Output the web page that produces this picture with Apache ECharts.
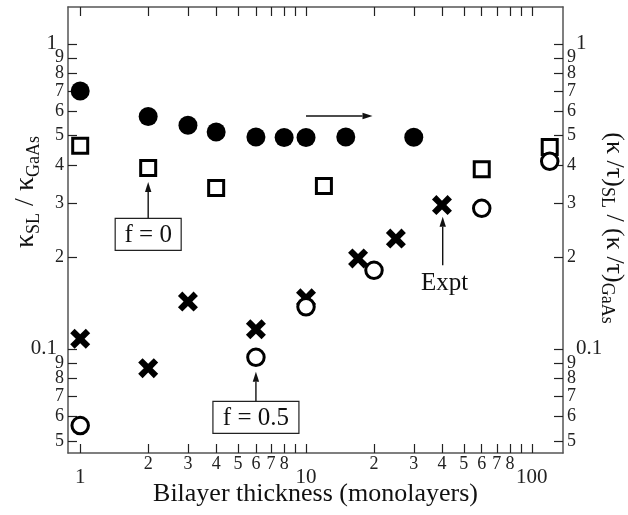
<!DOCTYPE html>
<html>
<head>
<meta charset="utf-8">
<script src="https://cdn.jsdelivr.net/npm/echarts@6/dist/echarts.min.js"></script>
<style>html,body{margin:0;padding:0;background:#fff}#c{width:628px;height:515px}</style>
</head>
<body>
<div id="c"></div>
<script>
// ---- data ----
const filledX = [1, 2, 3, 4, 6, 8, 10, 15, 30];
const filledY = [0.70, 0.578, 0.541, 0.514, 0.495, 0.493, 0.493, 0.495, 0.494];
const squareX = [1, 2, 4, 12, 60, 120];
const squareY = [0.463, 0.392, 0.337, 0.342, 0.388, 0.459];
const openX = [1, 6, 10, 20, 60, 120];
const openY = [0.0561, 0.0939, 0.1375, 0.181, 0.289, 0.412];
const exptX = [1, 2, 3, 6, 10, 17, 25, 40];
const exptY = [0.108, 0.0865, 0.143, 0.116, 0.1465, 0.198, 0.230, 0.296];

const xTickVals = [1,2,3,4,5,6,7,8,9,10,20,30,40,50,60,70,80,90,100];
const xLabelVals = [1,2,3,4,5,6,7,8,10,20,30,40,50,60,70,80,100];
const yTickVals = [0.05,0.06,0.07,0.08,0.09,0.1,0.2,0.3,0.4,0.5,0.6,0.7,0.8,0.9,1];
// trailing blank label slot keeps "1" from being treated as the edge label
const yLabelVals = yTickVals.concat([1.3]);

const xTitle = 'Bilayer thickness (monolayers)';
const leftTitle = 'κ{s|SL} / κ{s|GaAs}';
const rightTitle = '(κ /τ){s|SL} / (κ /τ){s|GaAs}';

// annotation anchors (data space)
const arrowRight = [[10, 0.58], [19.7, 0.58]];
const arrowF0 = [[2, 0.268], [2, 0.3527]];
const arrowF05 = [[6, 0.0673], [6, 0.0842]];
const arrowExpt = [[40.3, 0.188], [40.3, 0.271]];

const FONT = 'Liberation Serif';
const INK = '#000';
const AXC = '#555';

function zip(a, b) { return a.map((v, i) => [v, b[i]]); }
function fmt(v) {
  if (v > 1.05 && v < 2) return '';
  const e = Math.floor(Math.log10(v) + 1e-9);
  const m = Math.round(v / Math.pow(10, e));
  if (m === 1) return '{b|' + (+v.toPrecision(3)) + '}';
  return '{s|' + m + '}';
}
const xMarkPath = 'path://M0,22 L22,0 L50,28 L78,0 L100,22 L72,50 L100,78 L78,100 L50,72 L22,100 L0,78 L28,50 Z';

const chart = echarts.init(document.getElementById('c'), null, {renderer: 'canvas'});

const xMin = 0.883, xMax = 137.4, yMin = 0.0456, yMax = 1.32;

function xAxisDef(pos, labels) {
  return {
    type: 'log', logBase: 10, min: xMin, max: xMax, position: pos,
    axisLine: {show: true, onZero: false, lineStyle: {color: AXC, width: 1.5}},
    axisTick: {show: true, inside: true, length: 9, customValues: xTickVals, lineStyle: {color: '#222', width: 1.2}},
    minorTick: {show: false}, splitLine: {show: false},
    axisLabel: labels ? {
      show: true, customValues: xLabelVals, formatter: fmt, margin: 2, color: '#222',
      fontFamily: FONT, hideOverlap: false, showMinLabel: true, showMaxLabel: true,
      rich: {s: {fontSize: 18, fontFamily: FONT, color: '#222'},
             b: {fontSize: 21, fontFamily: FONT, color: '#222', padding: [12, 0, 0, 0]}}
    } : {show: false},
    name: labels ? xTitle : '', nameLocation: 'middle', nameGap: 28, nameMoveOverlap: false,
    nameTextStyle: {fontFamily: FONT, fontSize: 26, color: '#111'}
  };
}
function yAxisDef(pos) {
  const left = pos === 'left';
  return {
    type: 'log', logBase: 10, min: yMin, max: yMax, position: pos,
    axisLine: {show: true, onZero: false, lineStyle: {color: AXC, width: 1.5}},
    axisTick: {show: true, inside: true, length: 9, customValues: yTickVals, lineStyle: {color: '#222', width: 1.2}},
    minorTick: {show: false}, splitLine: {show: false},
    axisLabel: {
      show: true, customValues: yLabelVals, formatter: fmt, margin: 4, color: '#222',
      fontFamily: FONT, hideOverlap: false,
      rich: {s: {fontSize: 18, lineHeight: 11, fontFamily: FONT, color: '#222'},
             b: {fontSize: 21, lineHeight: 11, fontFamily: FONT, color: '#222', padding: left ? [0, 7, 0, 0] : [0, 0, 0, 9]}}
    }
  };
}

chart.setOption({
  animation: false,
  backgroundColor: '#fff',
  grid: {left: 68, right: 65, top: 7, bottom: 62, containLabel: false, outerBoundsMode: 'none'},
  xAxis: [xAxisDef('bottom', true), xAxisDef('top', false)],
  yAxis: [yAxisDef('left'), yAxisDef('right')],
  series: [
    {type: 'scatter', name: 'filled', xAxisIndex: 0, yAxisIndex: 1, data: zip(filledX, filledY),
     symbol: 'circle', symbolSize: 19, itemStyle: {color: INK, opacity: 1}, z: 2},
    {type: 'scatter', name: 'f=0', xAxisIndex: 0, yAxisIndex: 0, data: zip(squareX, squareY),
     symbol: 'rect', symbolSize: 15, itemStyle: {color: '#fff', borderColor: INK, borderWidth: 3, opacity: 1}, z: 3},
    {type: 'scatter', name: 'Expt', xAxisIndex: 0, yAxisIndex: 0, data: zip(exptX, exptY),
     symbol: xMarkPath, symbolSize: 20, itemStyle: {color: INK, opacity: 1}, z: 4},
    {type: 'scatter', name: 'f=0.5', xAxisIndex: 0, yAxisIndex: 0, data: zip(openX, openY),
     symbol: 'circle', symbolSize: 16.5, itemStyle: {color: '#fff', borderColor: INK, borderWidth: 3, opacity: 1}, z: 5}
  ]
});

function px(p) { return chart.convertToPixel({xAxisIndex: 0, yAxisIndex: 0}, p); }
function arrow(seg) {
  const a = px(seg[0]), b = px(seg[1]);
  const dx = b[0] - a[0], dy = b[1] - a[1];
  const L = Math.hypot(dx, dy), ux = dx / L, uy = dy / L;
  const hl = 10, hw = 3.2;
  const bx = b[0] - ux * hl, by = b[1] - uy * hl;
  return [
    {type: 'line', shape: {x1: a[0], y1: a[1], x2: bx, y2: by}, style: {stroke: '#111', lineWidth: 1.4}, z: 10},
    {type: 'polygon', shape: {points: [[b[0], b[1]], [bx - uy * hw, by + ux * hw], [bx + uy * hw, by - ux * hw]]},
     style: {fill: '#111'}, z: 10}
  ];
}
function box(seg, w, h, txt) {
  const a = px(seg[0]);
  return [
    {type: 'rect', shape: {x: a[0] - w / 2, y: a[1], width: w, height: h}, style: {fill: '#fff', stroke: '#222', lineWidth: 1.2}, z: 10},
    {type: 'text', x: a[0], y: a[1] + h / 2 + 1, style: {text: txt, fontFamily: FONT, fontSize: 25, fill: '#111', align: 'center', verticalAlign: 'middle'}, z: 11}
  ];
}
const ex = px(arrowExpt[0]);
const g = [].concat(
  arrow(arrowRight), arrow(arrowF0), arrow(arrowF05), arrow(arrowExpt),
  box(arrowF0, 66, 32, 'f = 0'), box(arrowF05, 86, 32, 'f = 0.5'),
  [{type: 'text', x: ex[0] + 2, y: ex[1] + 18, style: {text: 'Expt', fontFamily: FONT, fontSize: 25, fill: '#111', align: 'center', verticalAlign: 'middle'}, z: 11},
   {type: 'text', x: 26, y: 192, rotation: Math.PI / 2,
    style: {text: leftTitle, fontFamily: FONT, fontSize: 28, lineHeight: 34, fill: '#111', align: 'center', verticalAlign: 'middle',
      rich: {s: {fontFamily: FONT, fontSize: 18, lineHeight: 14, verticalAlign: 'bottom', fill: '#111'}}}, z: 11},
   {type: 'text', x: 614, y: 228, rotation: -Math.PI / 2,
    style: {text: rightTitle, fontFamily: FONT, fontSize: 26, lineHeight: 32, fill: '#111', align: 'center', verticalAlign: 'middle',
      rich: {s: {fontFamily: FONT, fontSize: 18, lineHeight: 13, verticalAlign: 'bottom', fill: '#111'}}}, z: 11}]
);
chart.setOption({graphic: g});
</script>
</body>
</html>
